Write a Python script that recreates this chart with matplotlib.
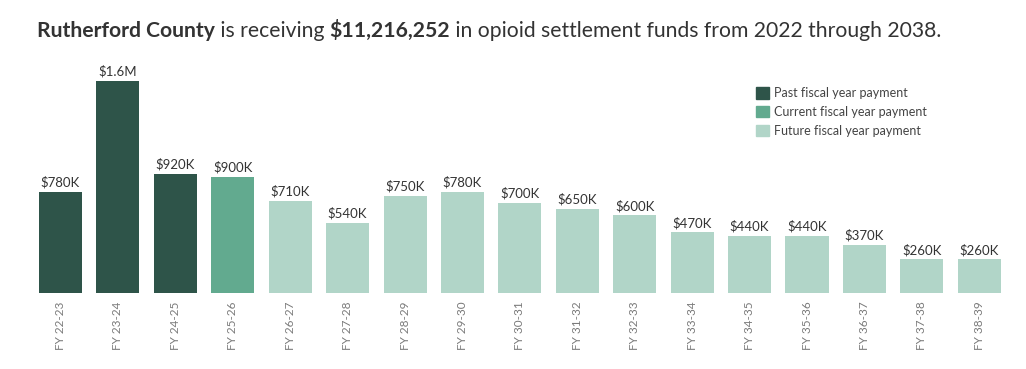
import numpy as np
import matplotlib.pyplot as plt
from matplotlib.patches import Patch

plt.rcParams['font.family'] = ['Lato', 'DejaVu Sans']

# data
years = ['FY 22-23', 'FY 23-24', 'FY 24-25', 'FY 25-26', 'FY 26-27', 'FY 27-28',
         'FY 28-29', 'FY 29-30', 'FY 30-31', 'FY 31-32', 'FY 32-33', 'FY 33-34',
         'FY 34-35', 'FY 35-36', 'FY 36-37', 'FY 37-38', 'FY 38-39']
payments = [780000, 1640000, 920000, 900000, 710000, 540000, 750000, 780000,
            700000, 650000, 600000, 470000, 440000, 440000, 370000, 260000, 260000]
status = ['past', 'past', 'past', 'current'] + ['future'] * 13

colors = {'past': '#2e5449', 'current': '#62aa8f', 'future': '#b1d5c8'}


def fmt(v):
    if v >= 1e6:
        return f'${v / 1e6:.1f}M'
    return f'${round(v / 1e4) * 10:.0f}K'


fig = plt.figure(figsize=(10.26, 3.69), dpi=100)
ax = fig.add_axes([31.8 / 1026, 1 - 293 / 369, (1008 - 31.8) / 1026, (293 - 65) / 369])

x = np.arange(len(years))
ax.bar(x, payments, width=0.75, color=[colors[s] for s in status])
for xi, v in zip(x, payments):
    ax.text(xi, v + 25000, fmt(v), ha='center', va='bottom', fontsize=9.5, color='#333333')

ax.set_xlim(-0.5, len(years) - 0.5)
ax.set_ylim(0, 1640000 * 228 / 212)
ax.set_xticks(x)
ax.set_xticklabels(years, rotation=90, fontsize=8.5, color='#7a7a7a')
ax.tick_params(axis='x', length=0, pad=6)
ax.set_yticks([])
for sp in ax.spines.values():
    sp.set_visible(False)

# legend
handles = [Patch(color=colors['past'], label='Past fiscal year payment'),
           Patch(color=colors['current'], label='Current fiscal year payment'),
           Patch(color=colors['future'], label='Future fiscal year payment')]
fig.legend(handles=handles, loc='upper left', bbox_to_anchor=(745 / 1026, 1 - 76 / 369),
           frameon=False, fontsize=9, handlelength=1.0, handleheight=1.0,
           handletextpad=0.45, labelspacing=0.55, labelcolor='#444444')

# title with mixed weights
pieces = [('Rutherford County', 'bold'), (' is receiving ', 'normal'),
          ('$11,216,252', 'bold'), (' in opioid settlement funds from 2022 through 2038.', 'normal')]
fig.canvas.draw()
r = fig.canvas.get_renderer()
xpos = 37
for txt, w in pieces:
    t = fig.text(xpos / 1026, 1 - 37 / 369, txt, fontsize=15.2, fontweight=w,
                 color='#333333', va='baseline', ha='left')
    bb = t.get_window_extent(renderer=r)
    xpos = bb.x1

fig.savefig('out.png', dpi=100)
